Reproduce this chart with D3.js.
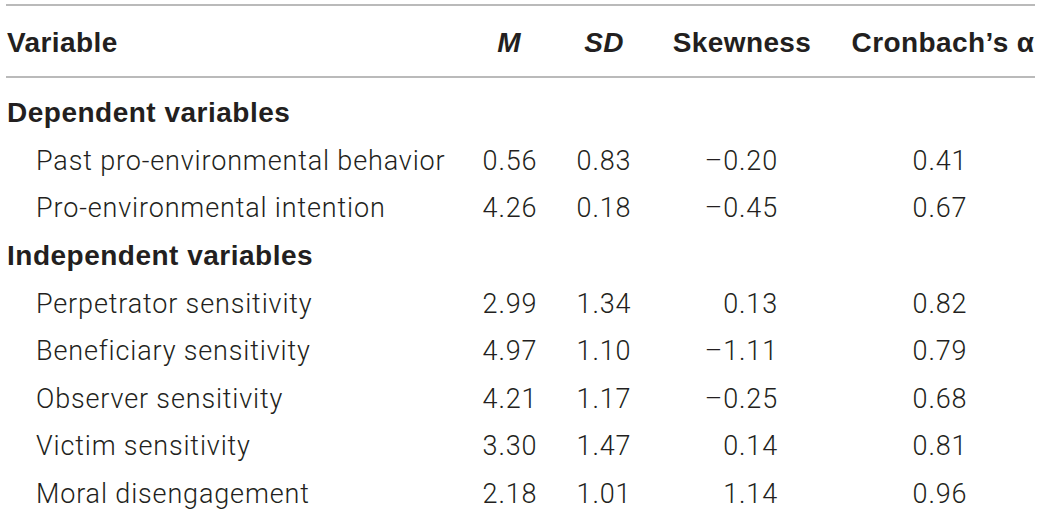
<!DOCTYPE html>
<html>
<head>
<meta charset="utf-8">
<script src="https://cdn.jsdelivr.net/npm/d3@7"></script>
<style>
  html, body { margin: 0; padding: 0; background: #fff; }
  svg { display: block; }
</style>
</head>
<body>
<svg width="1040" height="512"></svg>
<script>
// table content
var headers = ["Variable", "M", "SD", "Skewness", "Cronbach\u2019s \u03b1"];
var groups = ["Dependent variables", "Independent variables"];
var variables = [
  "Past pro-environmental behavior", "Pro-environmental intention",
  "Perpetrator sensitivity", "Beneficiary sensitivity", "Observer sensitivity",
  "Victim sensitivity", "Moral disengagement"
];
var varGroup = [0, 0, 1, 1, 1, 1, 1];
var means = [0.56, 4.26, 2.99, 4.97, 4.21, 3.30, 2.18];
var sds = [0.83, 0.18, 1.34, 1.10, 1.17, 1.47, 1.01];
var skewness = [-0.20, -0.45, 0.13, -1.11, -0.25, 0.14, 1.14];
var alphas = [0.41, 0.67, 0.82, 0.79, 0.68, 0.81, 0.96];

var svg = d3.select("svg"),
  width = +svg.attr("width");

var ink = "#231f20",
  rule = "#a3a3a3";

var boldFont = "'Liberation Sans', Arial, sans-serif",
  lightFont = "Roboto, sans-serif";

var fmt = d3.formatLocale({
  decimal: ".", thousands: ",", grouping: [3], currency: ["", ""], minus: "\u2013"
}).format(".2f");

// build row list: group headings followed by their variables
var rows = [];
groups.forEach(function(g, gi) {
  rows.push({type: "group", label: g});
  variables.forEach(function(v, i) {
    if (varGroup[i] === gi) {
      rows.push({type: "item", label: v, values: [means[i], sds[i], skewness[i], alphas[i]]});
    }
  });
});

// vertical: baseline of each body row
var y = d3.scaleLinear()
  .domain([0, rows.length - 1])
  .range([122, 503]);
var headerY = 52;

// column anchors (header, then values)
var cols = [
  {x: 7, anchor: "start"},
  {x: 509, anchor: "middle", valueX: 510, valueAnchor: "middle"},
  {x: 604, anchor: "middle", valueX: 604, valueAnchor: "middle"},
  {x: 742, anchor: "middle", valueX: 778, valueAnchor: "end"},
  {x: 943, anchor: "middle", valueX: 940, valueAnchor: "middle"}
];

// rules
[5, 77].forEach(function(ry) {
  svg.append("line")
    .attr("x1", 6).attr("x2", 1035)
    .attr("y1", ry).attr("y2", ry)
    .attr("stroke", rule)
    .attr("stroke-width", 1.6);
});

// header
svg.append("g")
  .selectAll("text")
  .data(headers)
  .join("text")
  .attr("x", function(d, i) { return cols[i].x; })
  .attr("y", headerY)
  .attr("text-anchor", function(d, i) { return cols[i].anchor; })
  .attr("font-family", boldFont)
  .attr("font-weight", "bold")
  .attr("font-style", function(d, i) { return (i === 1 || i === 2) ? "italic" : "normal"; })
  .attr("font-size", 28)
  .attr("letter-spacing", 0.4)
  .attr("fill", ink)
  .text(function(d) { return d; });

// body rows
var body = svg.append("g");
var rowG = body.selectAll("g")
  .data(rows)
  .join("g")
  .attr("transform", function(d, i) { return "translate(0," + y(i) + ")"; });

rowG.append("text")
  .attr("x", function(d) { return d.type === "group" ? 7 : 36; })
  .attr("font-family", function(d) { return d.type === "group" ? boldFont : lightFont; })
  .attr("font-weight", function(d) { return d.type === "group" ? "bold" : 300; })
  .attr("font-size", function(d) { return d.type === "group" ? 28 : 27; })
  .attr("letter-spacing", function(d) { return d.type === "group" ? 0.5 : 0.85; })
  .attr("fill", ink)
  .text(function(d) { return d.label; });

rowG.filter(function(d) { return d.type === "item"; })
  .selectAll("text.val")
  .data(function(d) { return d.values; })
  .join("text")
  .attr("class", "val")
  .attr("x", function(d, i) { return cols[i + 1].valueX; })
  .attr("text-anchor", function(d, i) { return cols[i + 1].valueAnchor; })
  .attr("font-family", lightFont)
  .attr("font-weight", 300)
  .attr("font-size", 27)
  .attr("letter-spacing", 0.85)
  .attr("fill", ink)
  .text(function(d) { return fmt(d); });
</script>
</body>
</html>
